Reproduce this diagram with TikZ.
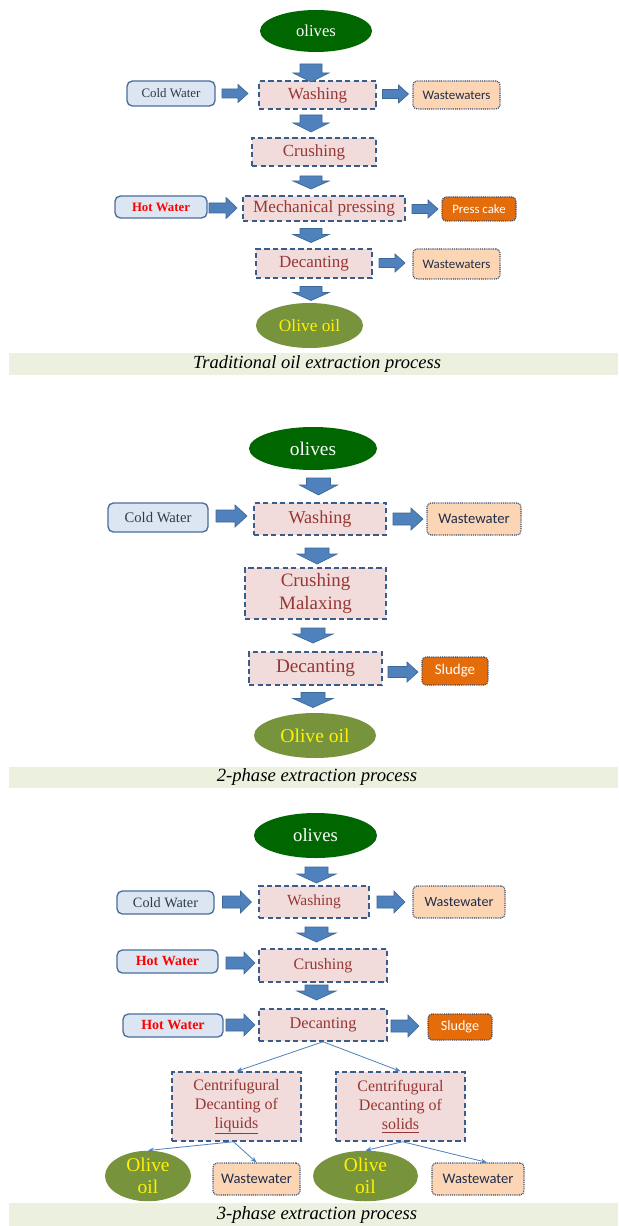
\documentclass[tikz,border=0pt]{standalone}
\usepackage{fontspec}
\setmainfont{Liberation Serif}
\newfontfamily\calfont{Carlito}
\usetikzlibrary{shapes.geometric,arrows.meta,calc}
\definecolor{olivedk}{HTML}{006600}
\definecolor{oliveoil}{HTML}{77933C}
\definecolor{procfill}{HTML}{F2DCDB}
\definecolor{procdraw}{HTML}{385D8A}
\definecolor{proctext}{HTML}{953735}
\definecolor{waterfill}{HTML}{DCE6F2}
\definecolor{waterdraw}{HTML}{4A6D9B}
\definecolor{watertext}{HTML}{2F3A4A}
\definecolor{wwfill}{HTML}{FCD5B5}
\definecolor{wwdraw}{HTML}{3A4A6A}
\definecolor{wwtext}{HTML}{1F2D4A}
\definecolor{cakefill}{HTML}{E46C0A}
\definecolor{arrfill}{HTML}{4F81BD}
\definecolor{arrdraw}{HTML}{3C6896}
\definecolor{bandfill}{HTML}{EBF1DE}
\newcommand\fs[2]{\fontsize{#1}{#2}\selectfont}
\tikzset{
  sz/.style 2 args={minimum width=#1*0.75pt, minimum height=#2*0.75pt},
  proc/.style={draw=procdraw, fill=procfill, dash pattern=on 4pt off 2.4pt, line width=1.1pt, text=proctext, inner sep=0pt, align=center},
  water/.style={draw=waterdraw, fill=waterfill, rounded corners=4pt, line width=1pt, text=watertext, inner sep=0pt},
  hotw/.style={water, text=red},
  ww/.style={draw=wwdraw, fill=wwfill, dash pattern=on 0.7pt off 0.7pt, line width=0.9pt, rounded corners=3pt, text=wwtext, inner sep=0pt},
  cake/.style={ww, fill=cakefill, text=white},
  oliv/.style={ellipse, fill=olivedk, text=white, inner sep=0pt},
  oil/.style={ellipse, fill=oliveoil, text=yellow, inner sep=0pt, align=center},
  band/.style={fill=bandfill, inner sep=0pt},
  barrow/.style={fill=arrfill, draw=arrdraw, line width=0.5pt, line join=miter},
  thinarrow/.style={draw=arrfill, line width=0.6pt, -{Stealth[length=4.5pt,width=3.5pt]}},
  pics/downarr/.style args={#1/#2/#3/#4}{code={
    \path[barrow] (-#3/2,-#1/2) -- (#3/2,-#1/2) -- (#3/2,#1/2-#4) -- (#2/2,#1/2-#4) -- (0,#1/2) -- (-#2/2,#1/2-#4) -- (-#3/2,#1/2-#4) -- cycle;}},
  pics/rightarr/.style args={#1/#2/#3/#4}{code={
    \path[barrow] (-#1/2,-#3/2) -- (#1/2-#4,-#3/2) -- (#1/2-#4,-#2/2) -- (#1/2,0) -- (#1/2-#4,#2/2) -- (#1/2-#4,#3/2) -- (-#1/2,#3/2) -- cycle;}},
}
\begin{document}
\begin{tikzpicture}[x=0.75pt,y=-0.75pt]
\useasboundingbox (0,0) rectangle (618,1226);
\fill[white] (0,0) rectangle (618,1226);

% ---------------- Section 1 ----------------
\node[oliv, sz={112}{42}, font=\fs{12.5pt}{15pt}] (olives1) at (316,31) {olives};
\node[water, sz={88}{25}, font=\fs{9.7pt}{12pt}] (cold1) at (171,93.5) {Cold Water};
\node[proc, sz={117}{28}, font=\fs{12.75pt}{15pt}] (wash1) at (317.5,95) {Washing};
\node[ww, sz={87}{28}, font=\calfont\fs{9.7pt}{12pt}] (ww1) at (456.5,95) {Wastewaters};
\node[proc, sz={124}{28}, font=\fs{12.75pt}{15pt}] (crush1) at (314,152) {Crushing};
\node[hotw, sz={92}{22}, font=\bfseries\fs{9.6pt}{12pt}] (hot1) at (161,207) {Hot Water};
\node[proc, sz={162}{25}, font=\fs{12.9pt}{15pt}] (mech1) at (324,208.5) {Mechanical pressing};
\node[cake, sz={74}{24}, font=\calfont\fs{9.6pt}{12pt}] (cake1) at (479,209) {Press cake};
\node[proc, sz={116}{29}, font=\fs{12.75pt}{15pt}] (dec1) at (314,263.5) {Decanting};
\node[ww, sz={87}{30}, font=\calfont\fs{9.7pt}{12pt}] (ww1b) at (456.5,264) {Wastewaters};
\node[oil, sz={107}{45}, font=\fs{13pt}{15pt}] (oil1) at (309.5,325.5) {Olive oil};
\node[band, minimum width=609*0.75pt, minimum height=22*0.75pt] (band1) at (313.5,364) {};
\node[inner sep=0pt, font=\itshape\fs{13.9pt}{16pt}] (cap1) at (317,364) {Traditional oil extraction process};

\pic at (311,73) {downarr={18/36/22/9}};
\pic at (311,123.5) {downarr={17/36/22/9}};
\pic at (311,182.5) {downarr={13/36/22/8}};
\pic at (311,235.5) {downarr={14/36/22/8}};
\pic at (311,293.5) {downarr={14/36/22/8}};
\pic at (235,93.5) {rightarr={26/18/9/10}};
\pic at (395.5,94) {rightarr={26/18/9/10}};
\pic at (223,208) {rightarr={28/21/10/11}};
\pic at (425,209) {rightarr={26/18/9/10}};
\pic at (392,263) {rightarr={26/18/9/10}};

% ---------------- Section 2 ----------------
\node[oliv, sz={128}{43}, font=\fs{14.5pt}{17pt}] (olives2) at (313,448.5) {olives};
\node[water, sz={100}{29}, font=\fs{11pt}{13pt}] (cold2) at (158,517.5) {Cold Water};
\node[proc, sz={132}{32}, font=\fs{13.6pt}{16pt}] (wash2) at (320,519) {Washing};
\node[ww, sz={94}{32}, font=\calfont\fs{11pt}{13pt}] (ww2) at (474,519) {Wastewater};
\node[proc, sz={141}{51}, font=\fs{14.2pt}{17.3pt}] (crush2) at (315.5,593.5) {Crushing\\Malaxing};
\node[proc, sz={133}{33}, font=\fs{14.4pt}{17pt}] (dec2) at (315.5,668.5) {Decanting};
\node[cake, sz={66}{28}, font=\calfont\fs{11.2pt}{13pt}] (sludge2) at (455,671) {Sludge};
\node[oil, sz={122}{45}, font=\fs{14.7pt}{17pt}] (oil2) at (315,735.5) {Olive oil};
\node[band, minimum width=609*0.75pt, minimum height=21*0.75pt] (band2) at (313.5,777.5) {};
\node[inner sep=0pt, font=\itshape\fs{14pt}{16pt}] (cap2) at (317,777.5) {2-phase extraction process};

\pic at (318.5,486.5) {downarr={17/38/24/10}};
\pic at (317,556) {downarr={16/40/24/10}};
\pic at (313,635.5) {downarr={15/40/24/9}};
\pic at (313,700) {downarr={15/40/24/9}};
\pic at (231.5,516) {rightarr={31/22/12/12}};
\pic at (408,519) {rightarr={30/22/12/12}};
\pic at (403,672) {rightarr={30/20/11/11}};

% ---------------- Section 3 ----------------
\node[oliv, sz={123}{45}, font=\fs{14pt}{17pt}] (olives3) at (315.5,835.5) {olives};
\node[water, sz={97}{23}, font=\fs{10.7pt}{13pt}] (cold3) at (165.5,902.5) {Cold Water};
\node[proc, sz={110}{32}, font=\fs{11.6pt}{14pt}] (wash3) at (314,902) {Washing};
\node[ww, sz={92}{32}, font=\calfont\fs{10.6pt}{13pt}] (ww3) at (459,902) {Wastewater};
\node[hotw, sz={101}{23}, font=\bfseries\fs{10.5pt}{13pt}] (hot3a) at (167.5,961.5) {Hot Water};
\node[proc, sz={128}{33}, font=\fs{12pt}{14pt}] (crush3) at (323,965.5) {Crushing};
\node[hotw, sz={100}{23}, font=\bfseries\fs{10.5pt}{13pt}] (hot3b) at (173,1025.5) {Hot Water};
\node[proc, sz={128}{32}, font=\fs{12.2pt}{14pt}] (dec3) at (323,1025) {Decanting};
\node[cake, sz={64}{26}, font=\calfont\fs{10.6pt}{13pt}] (sludge3) at (460,1027) {Sludge};
\node[proc, sz={129}{69}, font=\fs{12pt}{14.3pt}] (cl) at (236.5,1106.5) {Centrifugural\\Decanting of\\\underline{liquids}};
\node[proc, sz={129}{69}, font=\fs{12pt}{14.3pt}] (cr) at (400.5,1106.5) {Centrifugural\\Decanting of\\\underline{solids}};
\node[oil, sz={86}{42}, font=\fs{14.6pt}{16.5pt}] (oil3a) at (148,1176) {Olive\\oil};
\node[ww, sz={87}{32}, font=\calfont\fs{10.9pt}{13pt}] (ww3a) at (256.5,1179) {Wastewater};
\node[oil, sz={105}{42}, font=\fs{14.6pt}{16.5pt}] (oil3b) at (365.5,1176) {Olive\\oil};
\node[ww, sz={92}{32}, font=\calfont\fs{10.9pt}{13pt}] (ww3b) at (478,1179) {Wastewater};
\node[band, minimum width=609*0.75pt, minimum height=23*0.75pt] (band3) at (313.5,1214.5) {};
\node[inner sep=0pt, font=\itshape\fs{14pt}{16pt}] (cap3) at (317,1214.5) {3-phase extraction process};

\pic at (316.5,875) {downarr={16/39/23/9}};
\pic at (316.5,934.5) {downarr={15/39/23/9}};
\pic at (316.5,992.5) {downarr={15/39/23/9}};
\pic at (237,902) {rightarr={29/22/12/11}};
\pic at (391,902) {rightarr={28/22/12/11}};
\pic at (240.5,963) {rightarr={29/22/12/11}};
\pic at (240.5,1025) {rightarr={29/22/12/11}};
\pic at (405,1026) {rightarr={28/22/12/11}};

\draw[thinarrow] (dec3.south) -- (cl.north);
\draw[thinarrow] (dec3.south) -- (cr.north);
\draw[thinarrow] ($(cl.south)+(-3,0)$) -- (oil3a.north);
\draw[thinarrow] ($(cl.south)+(-3,0)$) -- (ww3a.north);
\draw[thinarrow] ($(cr.south)+(2,0)$) -- (oil3b.north);
\draw[thinarrow] ($(cr.south)+(2,0)$) -- ($(ww3b.north)+(9,0)$);
\end{tikzpicture}
\end{document}
